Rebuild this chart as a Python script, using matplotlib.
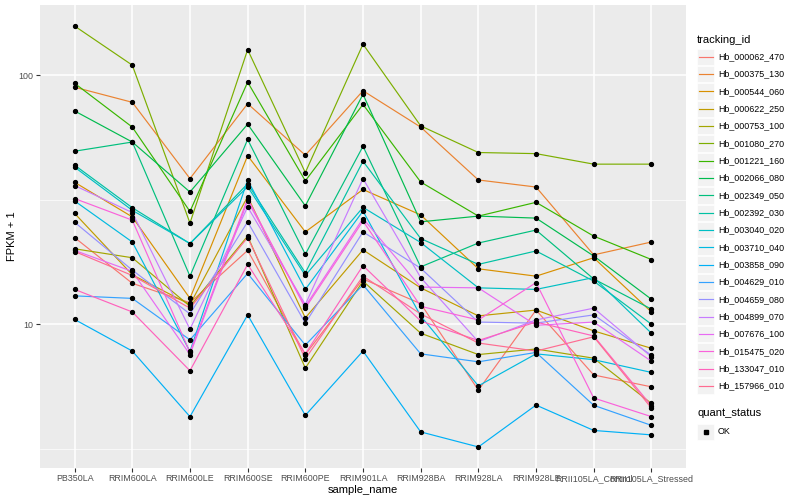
import matplotlib as mpl
mpl.use('Agg')
import matplotlib.pyplot as plt
from matplotlib.lines import Line2D
from matplotlib.patches import Rectangle
import numpy as np

plt.rcParams['font.family'] = ['Liberation Sans', 'DejaVu Sans']

samples = ['PB350LA', 'RRIM600LA', 'RRIM600LE', 'RRIM600SE', 'RRIM600PE', 'RRIM901LA',
           'RRIM928BA', 'RRIM928LA', 'RRIM928LE', 'RRII105LA_Control', 'RRII105LA_Stressed']

tracking_ids = ['Hb_000062_470', 'Hb_000375_130', 'Hb_000544_060', 'Hb_000622_250', 'Hb_000753_100',
                'Hb_001080_270', 'Hb_001221_160', 'Hb_002066_080', 'Hb_002349_050', 'Hb_002392_030',
                'Hb_003040_020', 'Hb_003710_040', 'Hb_003858_090', 'Hb_004629_010', 'Hb_004659_080',
                'Hb_004899_070', 'Hb_007676_100', 'Hb_015475_020', 'Hb_133047_010', 'Hb_157966_010']

# FPKM + 1, one list per gene, in sample order
hb_000062_470 = [22.3, 14.6, 12.2, 19.8, 7.55, 15.2, 12.1, 5.43, 11.4, 6.25, 5.6]
hb_000375_130 = [89.7, 78, 38.5, 77, 47.8, 86.8, 62, 38, 35.6, 19.0, 21.4]
hb_000544_060 = [37.2, 27.0, 12.7, 47.6, 23.5, 34.8, 27.5, 16.7, 15.6, 18.5, 11.2]
hb_000622_250 = [27.9, 15.8, 12.0, 32.6, 10.6, 19.9, 14.0, 10.8, 11.4, 9.4, 8.0]
hb_000753_100 = [20.1, 18.5, 11.8, 22.6, 6.66, 14.9, 9.2, 7.55, 7.95, 7.3, 4.8]
hb_001080_270 = [158, 110, 25.5, 127, 40.7, 133.6, 62.7, 49, 48.5, 44, 44]
hb_001221_160 = [93, 62, 28.4, 94, 37.7, 76.5, 37.3, 27.2, 30.9, 22.6, 18.2]
hb_002066_080 = [72, 54, 34, 63.7, 29.9, 84, 25.8, 27.2, 26.7, 18.8, 12.6]
hb_002349_050 = [49.6, 54, 15.6, 55.3, 19.1, 51.9, 17.0, 21.2, 23.9, 15.2, 11.5]
hb_002392_030 = [43.6, 29.4, 21.1, 36.7, 16.1, 45.2, 22.1, 17.4, 19.7, 14.9, 10.0]
hb_003040_020 = [42.8, 28.7, 21.1, 35.7, 15.7, 29.5, 21.3, 14.0, 13.8, 15.4, 9.2]
hb_003710_040 = [31.3, 21.4, 7.77, 38.0, 13.8, 28.5, 10.8, 5.65, 7.6, 7.2, 6.4]
hb_003858_090 = [10.45, 7.8, 4.25, 10.9, 4.3, 7.8, 3.69, 3.21, 4.73, 3.74, 3.59]
hb_004629_010 = [13.0, 12.7, 8.65, 16.0, 8.24, 14.4, 7.6, 7.06, 7.7, 4.72, 3.92]
hb_004659_080 = [25.7, 16.5, 11.0, 25.8, 10.1, 23.5, 16.8, 10.2, 10.1, 10.9, 7.5]
hb_004899_070 = [36.1, 28.1, 9.55, 29.6, 12.0, 38.5, 15.4, 8.5, 10.4, 11.6, 7.4]
hb_007676_100 = [19.8, 16.3, 7.55, 31.3, 11.8, 26.6, 14.1, 14.0, 9.9, 10.2, 7.1]
hb_015475_020 = [32.0, 26.2, 7.7, 32.0, 11.6, 26.0, 11.8, 10.4, 14.7, 5.05, 4.25]
hb_133047_010 = [13.8, 11.2, 6.5, 17.4, 7.6, 17.2, 10.3, 8.6, 10.2, 8.97, 4.7]
hb_157966_010 = [19.6, 15.7, 11.6, 22.3, 7.26, 15.6, 11.0, 8.4, 7.8, 8.9, 4.6]

series = [hb_000062_470, hb_000375_130, hb_000544_060, hb_000622_250, hb_000753_100,
          hb_001080_270, hb_001221_160, hb_002066_080, hb_002349_050, hb_002392_030,
          hb_003040_020, hb_003710_040, hb_003858_090, hb_004629_010, hb_004659_080,
          hb_004899_070, hb_007676_100, hb_015475_020, hb_133047_010, hb_157966_010]

# ggplot2 default hue palette, 20 levels
colors = ['#F8766D', '#EA8331', '#D89000', '#C09B00', '#A3A500', '#7CAE00', '#39B600', '#00BB4E',
          '#00BF7D', '#00C1A3', '#00BFC4', '#00BAE0', '#00B0F6', '#35A2FF', '#9590FF', '#C77CFF',
          '#E76BF3', '#FA62DB', '#FF62BC', '#FF6C91']

fig = plt.figure(figsize=(8, 5), dpi=100)
ax = fig.add_axes([40 / 800, 1 - 468 / 500, 646 / 800, 463 / 500])
ax.set_facecolor('#EBEBEB')

x = np.arange(len(samples))
for vals, col in zip(series, colors):
    ax.plot(x, vals, color=col, lw=0.85, zorder=3)
for vals in series:
    ax.plot(x, vals, linestyle='', marker='o', ms=2.8, color='black', zorder=4)

ax.set_yscale('log')
allv = np.log10(np.concatenate([np.array(s) for s in series]))
lo, hi = allv.min(), allv.max()
pad = (hi - lo) * 0.05
ax.set_ylim(10 ** (lo - pad), 10 ** (hi + pad))
ax.set_xlim(-0.6, len(samples) - 1 + 0.6)

ax.set_yticks([10, 100])
ax.set_yticklabels(['10', '100'])
ax.set_yticks([10 ** 0.5, 10 ** 1.5], minor=True)
ax.yaxis.set_minor_formatter(mpl.ticker.NullFormatter())
ax.set_xticks(x)
ax.set_xticklabels(samples)

ax.grid(True, which='major', color='white', lw=1.1, zorder=0)
ax.grid(True, which='minor', axis='y', color='white', lw=0.5, zorder=0)
ax.set_axisbelow(True)
for sp in ax.spines.values():
    sp.set_visible(False)
ax.tick_params(axis='both', which='major', length=2.8, width=0.8, color='#333333',
               labelsize=6.4, labelcolor='#4D4D4D', pad=1.8)
ax.tick_params(axis='y', which='minor', length=0)

ax.set_xlabel('sample_name', fontsize=8, labelpad=1)
ax.set_ylabel('FPKM + 1', fontsize=8, labelpad=1)

# legends drawn in figure pixel space
lg = fig.add_axes([0, 0, 1, 1])
lg.set_xlim(0, 800)
lg.set_ylim(500, 0)
lg.axis('off')
lg.patch.set_alpha(0)

lg.text(697, 40, 'tracking_id', fontsize=8, va='center', ha='left')
step = 17.33
for i, (name, col) in enumerate(zip(tracking_ids, colors)):
    yc = 56.7 + i * step
    lg.add_patch(Rectangle((697, yc - step / 2 + 0.5), 17, step - 1, facecolor='#F2F2F2',
                           edgecolor='white', lw=0.5))
    lg.add_line(Line2D([698.5, 712.5], [yc, yc], color=col, lw=0.85))
    lg.text(718, yc, name, fontsize=6.4, va='center', ha='left')

lg.text(697, 413, 'quant_status', fontsize=8, va='center', ha='left')
lg.add_patch(Rectangle((697, 432 - step / 2 + 0.5), 17, step - 1, facecolor='#F2F2F2',
                       edgecolor='white', lw=0.5))
lg.add_line(Line2D([705.5], [432], linestyle='', marker='s', ms=2.6, color='black'))
lg.text(718, 432, 'OK', fontsize=6.4, va='center', ha='left')

fig.savefig('out.png', dpi=100)
